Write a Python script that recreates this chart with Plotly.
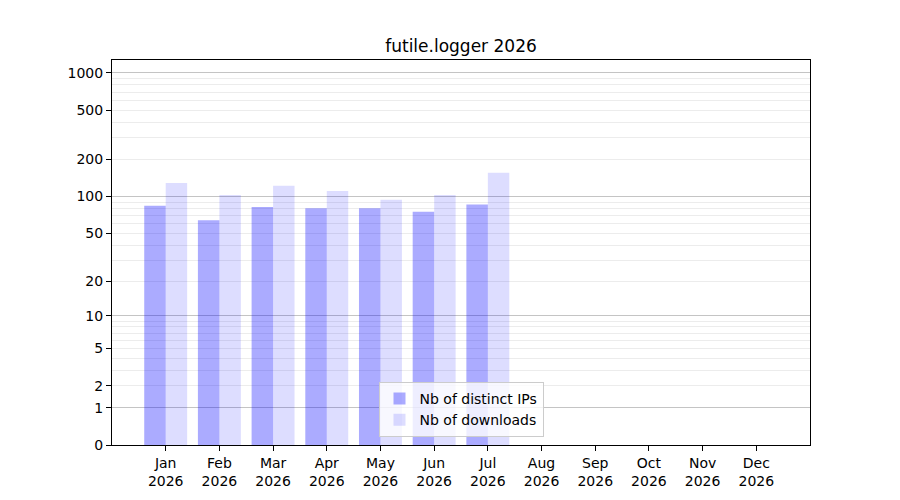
import plotly.graph_objects as go

months = ["Jan", "Feb", "Mar", "Apr", "May", "Jun", "Jul", "Aug", "Sep", "Oct", "Nov", "Dec"]
year = "2026"
ips = [84, 64, 82, 80, 80, 75, 86]
downloads = [129, 103, 122, 111, 94, 103, 156]

y_ticks = [0, 1, 2, 5, 10, 20, 50, 100, 200, 500, 1000]
y_major = [1, 10, 100, 1000]
y_minor = [2, 3, 4, 5, 6, 7, 8, 9, 20, 30, 40, 50, 60, 70, 80, 90,
           200, 300, 400, 500, 600, 700, 800, 900]

# y axis is log10(1 + v): bars start at base 1 (= value 0)
xs = list(range(len(months)))
fig = go.Figure()
fig.add_trace(go.Bar(x=xs[:len(ips)], y=ips, base=1, name="Nb of distinct IPs",
                     marker=dict(color="rgba(0,0,255,0.33)", line=dict(width=0))))
fig.add_trace(go.Bar(x=xs[:len(downloads)], y=downloads, base=1, name="Nb of downloads",
                     marker=dict(color="rgba(0,0,255,0.135)", line=dict(width=0))))

# dark gridlines at decades, on an overlay axis
fig.add_trace(go.Scatter(x=[None], y=[None], yaxis="y2", showlegend=False, hoverinfo="skip"))

yrange = [0, 3.105]
# the page body has an 8px margin, so margins are shifted by 8px
fig.update_layout(
    width=900, height=500,
    paper_bgcolor="white", plot_bgcolor="white",
    font=dict(family="DejaVu Sans", size=14, color="black"),
    title=dict(text="futile.logger " + year, x=0.5, xanchor="center", xref="paper",
               y=1 - 38 / 500, yanchor="middle", font=dict(size=17)),
    margin=dict(l=104, r=98, t=52, b=63),
    barmode="group", bargap=0.2, bargroupgap=0,
    showlegend=True,
    legend=dict(x=0.5, xanchor="center", y=0.021, yanchor="bottom",
                bgcolor="rgba(255,255,255,0.8)", bordercolor="#cccccc", borderwidth=1,
                font=dict(size=14), tracegroupgap=0),
    xaxis=dict(range=[-1, 12], tickmode="array", tickvals=xs,
               ticktext=[m + "<br>" + year for m in months],
               showgrid=False, zeroline=False, showline=True, linecolor="black",
               linewidth=1, mirror=True, ticks="outside", ticklen=5, tickcolor="black"),
    yaxis=dict(type="log", range=yrange, tickmode="array",
               tickvals=[1 + t for t in y_ticks], ticktext=[str(t) for t in y_ticks],
               showgrid=False, zeroline=False, showline=True, linecolor="black",
               linewidth=1, mirror=True, ticks="outside", ticklen=5, tickcolor="black",
               minor=dict(tickmode="array", tickvals=[1 + t for t in y_minor],
                          showgrid=True, gridcolor="#ececec", gridwidth=1, ticks="")),
    yaxis2=dict(type="log", range=yrange, overlaying="y", tickmode="array",
                tickvals=[1 + t for t in y_major], showticklabels=False,
                showgrid=True, gridcolor="#c4c4c4", gridwidth=1, zeroline=False,
                ticks="", showline=False),
)

fig.write_html("out.html")
